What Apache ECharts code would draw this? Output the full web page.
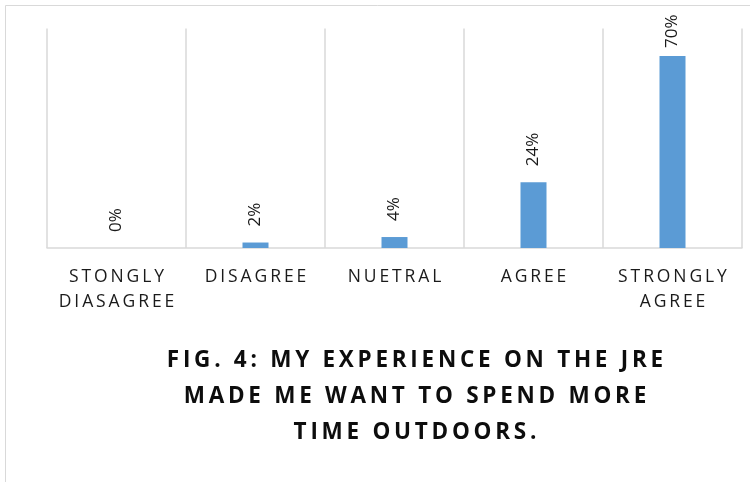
<!DOCTYPE html>
<html>
<head>
<meta charset="utf-8">
<script src="https://cdn.jsdelivr.net/npm/echarts@6/dist/echarts.min.js"></script>
<style>
  html, body { margin: 0; padding: 0; background: #fff; }
  #container { width: 750px; height: 482px; }
</style>
</head>
<body>
<div id="container"></div>
<script>
    var categories = ['STONGLY\nDIASAGREE', 'DISAGREE', 'NUETRAL', 'AGREE', 'STRONGLY\nAGREE'];
    var values = [0, 2, 4, 24, 70];
    var titleLines = ['FIG. 4: MY EXPERIENCE ON THE JRE', 'MADE ME WANT TO SPEND MORE', 'TIME OUTDOORS.'];

    // spread letters out a bit, the original uses letter spacing
    function spaced(s, sp) {
        return s.split('\n').map(function (line) {
            return line.split('').join(sp);
        }).join('\n');
    }

    var barData = [];
    for (var i = 0; i < values.length; i++) {
        var item = { value: values[i] };
        // tallest label is pushed down a bit so it fits in the plot
        if (values[i] === Math.max.apply(null, values)) {
            item.label = { distance: 8 };
        }
        barData.push(item);
    }

    var dom = document.getElementById('container');
    var myChart = echarts.init(dom);
    var option = {
        animation: false,
        backgroundColor: '#fff',
        title: {
            text: spaced(titleLines.join('\n'), '\u2009'),
            left: 410,
            top: 338,
            textAlign: 'center',
            textStyle: {
                fontFamily: 'Open Sans',
                fontWeight: 'bold',
                fontSize: 22.5,
                lineHeight: 36,
                color: '#0d0d0d'
            }
        },
        graphic: [{
            type: 'polyline',
            shape: { points: [[5.5, 482], [5.5, 5.5], [750, 5.5]] },
            style: { stroke: '#d9d9d9', lineWidth: 1, fill: null },
            silent: true
        }],
        grid: { left: 47, right: 8, top: 28.6, bottom: 234 },
        xAxis: {
            type: 'category',
            data: categories,
            axisLine: { lineStyle: { color: '#d9d9d9', width: 1.5 } },
            axisTick: { show: false },
            splitLine: { show: true, lineStyle: { color: '#d9d9d9', width: 1.5 } },
            axisLabel: {
                interval: 0,
                margin: 17,
                fontFamily: 'Open Sans',
                fontSize: 17.5,
                lineHeight: 25,
                color: '#1a1a1a',
                formatter: function (v) { return spaced(v, '\u2009'); }
            }
        },
        yAxis: {
            type: 'value',
            min: 0,
            max: 80,
            show: false,
            splitLine: { show: false }
        },
        series: [{
            type: 'bar',
            data: barData,
            barWidth: 26,
            itemStyle: { color: '#5b9bd5' },
            label: {
                show: true,
                position: 'top',
                rotate: 90,
                align: 'left',
                verticalAlign: 'middle',
                distance: 16,
                fontFamily: 'Open Sans',
                fontSize: 17,
                color: '#1a1a1a',
                formatter: '{c}%'
            }
        }]
    };
    myChart.setOption(option, true);
</script>
</body>
</html>
